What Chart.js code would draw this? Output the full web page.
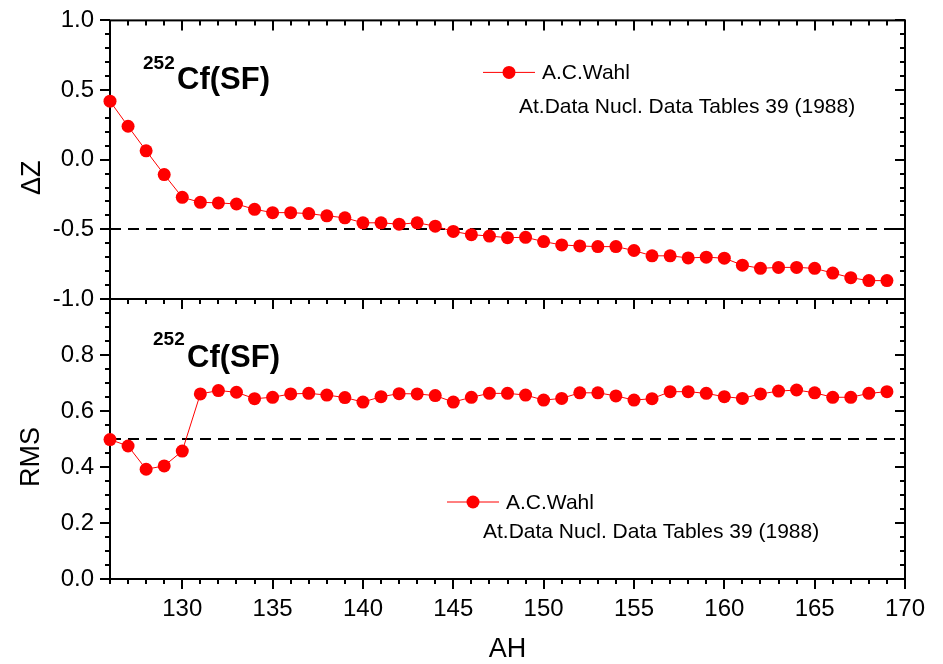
<!DOCTYPE html>
<html>
<head>
<meta charset="utf-8">
<script src="https://cdn.jsdelivr.net/npm/chart.js@4"></script>
<style>
  html, body { margin: 0; padding: 0; background: #fff; }
  #wrap { position: relative; width: 943px; height: 664px; }
  #wrap canvas { position: absolute; left: 0; top: 0; }
</style>
</head>
<body>
<div id="wrap">
  <canvas id="dz" width="943" height="664"></canvas>
  <canvas id="rms" width="943" height="664"></canvas>
</div>
<script>
const FONT = "'Liberation Sans', Arial, sans-serif";

// heavy fragment mass number
const ah = [126, 127, 128, 129, 130, 131, 132, 133, 134, 135, 136, 137, 138, 139, 140,
  141, 142, 143, 144, 145, 146, 147, 148, 149, 150, 151, 152, 153, 154, 155,
  156, 157, 158, 159, 160, 161, 162, 163, 164, 165, 166, 167, 168, 169];

const deltaZ = [0.42, 0.24, 0.064, -0.107, -0.27, -0.306, -0.31, -0.318, -0.356, -0.38,
  -0.38, -0.387, -0.403, -0.417, -0.453, -0.453, -0.463, -0.453, -0.477, -0.515,
  -0.538, -0.548, -0.56, -0.557, -0.588, -0.612, -0.619, -0.624, -0.624, -0.652,
  -0.69, -0.69, -0.705, -0.70, -0.707, -0.757, -0.78, -0.773, -0.773, -0.78,
  -0.814, -0.847, -0.868, -0.868];

const rms = [0.498, 0.475, 0.392, 0.404, 0.457, 0.661, 0.673, 0.667, 0.644, 0.649,
  0.661, 0.663, 0.657, 0.648, 0.632, 0.651, 0.662, 0.661, 0.655, 0.632,
  0.649, 0.663, 0.663, 0.657, 0.639, 0.645, 0.665, 0.665, 0.654, 0.639,
  0.644, 0.669, 0.669, 0.663, 0.651, 0.645, 0.661, 0.671, 0.675, 0.665,
  0.649, 0.649, 0.663, 0.669];

const xTicks = [130, 135, 140, 145, 150, 155, 160, 165, 170];
const dzTicks = [-1.0, -0.5, 0.0, 0.5, 1.0];
const rmsTicks = [0.0, 0.2, 0.4, 0.6, 0.8];

const legendName = 'A.C.Wahl';
const legendRef = 'At.Data Nucl. Data Tables 39 (1988)';

Chart.defaults.color = '#000';
Chart.defaults.font.family = FONT;

// frame, minor/major ticks and the dashed reference line
const panelFrame = {
  id: 'panelFrame',
  beforeDatasetsDraw(chart, args, opts) {
    const { ctx, chartArea: a, scales } = chart;
    const x = scales.x, y = scales.y;
    ctx.save();
    ctx.strokeStyle = '#000';
    ctx.lineWidth = 2;
    ctx.setLineDash([11, 7]);
    const yr = Math.round(y.getPixelForValue(opts.refLine));
    ctx.beginPath();
    ctx.moveTo(a.left, yr);
    ctx.lineTo(a.right, yr);
    ctx.stroke();
    ctx.setLineDash([]);

    ctx.lineWidth = 2;
    ctx.beginPath();
    for (let v = x.min; v <= x.max; v++) {
      const px = Math.round(x.getPixelForValue(v));
      const len = v % 5 === 0 ? 10 : 5;
      ctx.moveTo(px, a.top); ctx.lineTo(px, a.top + len);
      ctx.moveTo(px, a.bottom); ctx.lineTo(px, a.bottom + len);
    }
    for (let i = opts.yFrom; i <= opts.yTo; i++) {
      const py = Math.round(y.getPixelForValue(i * opts.yMinor));
      const len = i % opts.yMajorEvery === 0 ? 10 : 5;
      ctx.moveTo(a.left, py); ctx.lineTo(a.left - len, py);
      ctx.moveTo(a.right, py); ctx.lineTo(a.right - len, py);
    }
    ctx.stroke();

    ctx.lineWidth = 2;
    ctx.strokeRect(a.left, a.top, a.right - a.left, a.bottom - a.top);
    ctx.restore();
  },
  afterDraw(chart, args, opts) {
    const { ctx, chartArea: a } = chart;
    ctx.save();
    ctx.fillStyle = '#000';
    ctx.textBaseline = 'alphabetic';
    ctx.textAlign = 'left';
    // 252Cf(SF)
    const t = opts.title;
    ctx.font = 'bold 19px ' + FONT;
    ctx.fillText('252', a.left + t.dx, a.top + t.supY);
    ctx.font = 'bold 31px ' + FONT;
    ctx.fillText('Cf(SF)', a.left + t.dx + 34, a.top + t.baseY);

    // legend
    const l = opts.legend;
    const cx = a.left + l.dx, cy = a.top + l.dy;
    ctx.strokeStyle = '#ff0000';
    ctx.lineWidth = 1;
    ctx.beginPath();
    ctx.moveTo(cx - 26, cy); ctx.lineTo(cx + 26, cy);
    ctx.stroke();
    ctx.fillStyle = '#ff0000';
    ctx.beginPath();
    ctx.arc(cx, cy, 6.5, 0, Math.PI * 2);
    ctx.fill();
    ctx.fillStyle = '#000';
    ctx.font = '21px ' + FONT;
    ctx.fillText(legendName, cx + 33, cy + 7);
    ctx.fillText(legendRef, cx + 10, cy + l.line2);

    // y axis title
    ctx.font = '27px ' + FONT;
    ctx.textAlign = 'center';
    ctx.textBaseline = 'middle';
    ctx.translate(opts.yTitleX, (a.top + a.bottom) / 2 + 18);
    ctx.rotate(-Math.PI / 2);
    ctx.fillText(opts.yTitle, 0, 0);
    ctx.restore();
  }
};

function points(ys) {
  return ah.map((a, i) => ({ x: a, y: ys[i] }));
}

function dataset(ys) {
  return {
    data: points(ys),
    borderColor: '#ff0000',
    backgroundColor: '#ff0000',
    borderWidth: 1,
    pointRadius: 6.5,
    pointBorderWidth: 0,
    pointBackgroundColor: '#ff0000',
    clip: false
  };
}

function yAxis(min, max, ticks) {
  return {
    type: 'linear',
    min: min,
    max: max,
    afterBuildTicks: s => { s.ticks = ticks.map(v => ({ value: v })); },
    afterFit: s => { s.width = 110; },
    grid: { display: false, drawTicks: true, tickLength: 10 },
    border: { display: false },
    ticks: {
      font: { size: 24 },
      padding: 6,
      callback: v => v.toFixed(1)
    }
  };
}

new Chart(document.getElementById('dz'), {
  type: 'line',
  data: { datasets: [dataset(deltaZ)] },
  options: {
    responsive: false,
    animation: false,
    layout: { padding: { top: 18, right: 38, left: 0, bottom: 0 } },
    scales: {
      x: {
        type: 'linear', min: 126, max: 170,
        afterFit: s => { s.height = 365; },
        grid: { display: false },
        border: { display: false },
        ticks: { display: false }
      },
      y: yAxis(-1, 1, dzTicks)
    },
    plugins: {
      legend: { display: false },
      tooltip: { enabled: false },
      panelFrame: {
        refLine: -0.5, yMinor: 0.1, yFrom: -10, yTo: 10, yMajorEvery: 5,
        title: { dx: 33, supY: 49, baseY: 69 },
        legend: { dx: 399, dy: 52, line2: 41 },
        yTitle: 'ΔZ', yTitleX: 33
      }
    }
  },
  plugins: [panelFrame]
});

new Chart(document.getElementById('rms'), {
  type: 'line',
  data: { datasets: [dataset(rms)] },
  options: {
    responsive: false,
    animation: false,
    layout: { padding: { top: 299, right: 38, left: 0, bottom: 0 } },
    scales: {
      x: {
        type: 'linear', min: 126, max: 170,
        afterBuildTicks: s => { s.ticks = xTicks.map(v => ({ value: v })); },
        afterFit: s => { s.height = 85; },
        grid: { display: false, drawTicks: true, tickLength: 10 },
        border: { display: false },
        ticks: { font: { size: 24 }, padding: 6, maxRotation: 0, autoSkip: false },
        title: {
          display: true, text: 'AH',
          font: { size: 27, lineHeight: 1 },
          padding: { top: 0, bottom: 1 }
        }
      },
      y: yAxis(0, 1, rmsTicks)
    },
    plugins: {
      legend: { display: false },
      tooltip: { enabled: false },
      panelFrame: {
        refLine: 0.5, yMinor: 0.05, yFrom: 0, yTo: 20, yMajorEvery: 4,
        title: { dx: 43, supY: 46, baseY: 68 },
        legend: { dx: 363, dy: 203, line2: 36 },
        yTitle: 'RMS', yTitleX: 32
      }
    }
  },
  plugins: [panelFrame]
});
</script>
</body>
</html>
